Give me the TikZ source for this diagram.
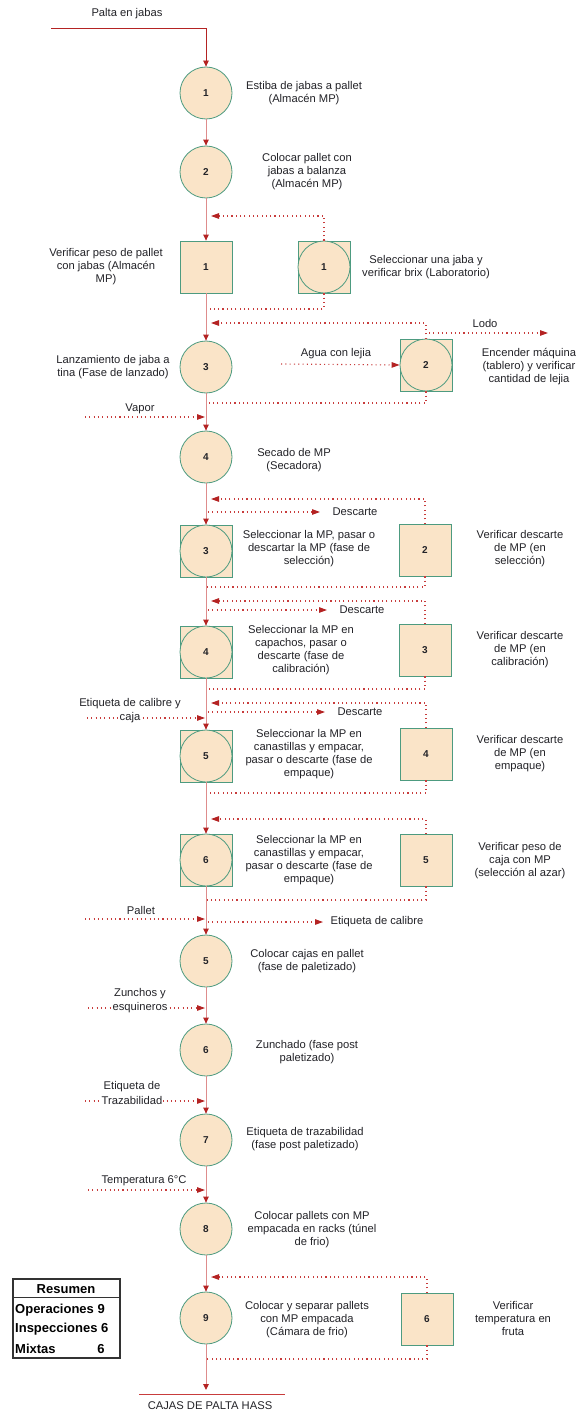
\documentclass[tikz,border=0pt]{standalone}
\usepackage{fontspec}
\setmainfont{Liberation Sans}
\usetikzlibrary{arrows.meta}
\definecolor{fillc}{RGB}{250,228,200}
\definecolor{bord}{RGB}{77,155,128}
\definecolor{spinec}{RGB}{222,140,140}
\definecolor{arr}{RGB}{180,35,35}
\definecolor{dotc}{RGB}{200,60,60}
\definecolor{txt}{RGB}{35,35,40}
\begin{document}
\begin{tikzpicture}[x=1pt,y=-1pt,
  opnode/.style={circle, draw=bord, fill=fillc, line width=0.8pt, minimum size=52pt, inner sep=0pt, font=\fontsize{10}{12}\selectfont\bfseries, text=txt},
  insnode/.style={rectangle, draw=bord, fill=fillc, line width=0.8pt, minimum size=52pt, inner sep=0pt, font=\fontsize{10}{12}\selectfont\bfseries, text=txt},
  flow/.style={draw=spinec, line width=0.9pt, -{Triangle[length=6pt,width=5.5pt,color=arr,fill=arr]}},
  toparrow/.style={draw=arr, line width=0.8pt, -{Triangle[length=6pt,width=5.5pt,color=arr,fill=arr]}},
  dots/.style={draw=dotc, line width=1.1pt, dash pattern=on 1.1pt off 3.2pt},
  dotarrow/.style={dots, -{Triangle[length=8pt,width=5.5pt,color=arr,fill=arr]}},
  lbl/.style={align=center, font=\fontsize{11.2}{13}\selectfont, text=txt, inner sep=1pt},
  wlbl/.style={lbl, fill=white},
  tbl/.style={font=\fontsize{13}{15}\selectfont\bfseries, text=black, inner sep=0pt}
]
\useasboundingbox[fill=white] (0,0) rectangle (576,1415);

% ---------- operations ----------
\node[opnode] (op1) at (206,93) {1};
\node[opnode] (op2) at (206,172) {2};
\node[opnode] (op3) at (206,367) {3};
\node[opnode] (op4) at (206,457) {4};
\node[opnode] (op5) at (206,961) {5};
\node[opnode] (op6) at (206,1050) {6};
\node[opnode] (op7) at (206,1140) {7};
\node[opnode] (op8) at (206,1229) {8};
\node[opnode] (op9) at (206,1318) {9};

% ---------- inspections ----------
\node[insnode] (in1) at (206,267) {1};
\node[insnode] (in2) at (425,550) {2};
\node[insnode] (in3) at (425,650) {3};
\node[insnode] (in4) at (426,754) {4};
\node[insnode] (in5) at (426,860) {5};
\node[insnode] (in6) at (427,1319) {6};

% ---------- mixed ----------
\node[insnode] (mx1) at (324,267) {};
\node[opnode] (mx1c) at (mx1.center) {1};
\node[insnode] (mx2) at (426,365) {};
\node[opnode] (mx2c) at (mx2.center) {2};
\node[insnode] (mx3) at (206,551) {};
\node[opnode] (mx3c) at (mx3.center) {3};
\node[insnode] (mx4) at (206,652) {};
\node[opnode] (mx4c) at (mx4.center) {4};
\node[insnode] (mx5) at (206,756) {};
\node[opnode] (mx5c) at (mx5.center) {5};
\node[insnode] (mx6) at (206,860) {};
\node[opnode] (mx6c) at (mx6.center) {6};

% ---------- main flow ----------
\coordinate (start) at (51,28);
\coordinate (corner) at (206,28);
\draw[toparrow] (start) -- (corner) -- (op1);
\draw[flow] (op1) -- (op2);
\draw[flow] (op2) -- (in1);
\draw[flow] (in1) -- (op3);
\draw[flow] (op3) -- (op4);
\draw[flow] (op4) -- (mx3);
\draw[flow] (mx3) -- (mx4);
\draw[flow] (mx4) -- (mx5);
\draw[flow] (mx5) -- (mx6);
\draw[flow] (mx6) -- (op5);
\draw[flow] (op5) -- (op6);
\draw[flow] (op6) -- (op7);
\draw[flow] (op7) -- (op8);
\draw[flow] (op8) -- (op9);
\coordinate (fin) at (206,1390);
\draw[flow] (op9) -- (fin);
\coordinate (endL) at (139,1394);
\coordinate (endR) at (285,1394);
\draw[draw=dotc, line width=0.6pt] (endL) -- (endR);

% ---------- dotted connectors ----------
% mixed 1
\coordinate (f1) at (211,216);
\coordinate (r1) at (207,309);
\draw[dotarrow] (mx1.north) |- (f1);
\draw[dots] (mx1.south) |- (r1);
% mixed 2
\coordinate (f2) at (211,323);
\coordinate (r2) at (207,403);
\draw[dotarrow] (mx2.north) |- (f2);
\draw[dots] (mx2.south) |- (r2);
\coordinate (lodoA) at (429,333);
\coordinate (lodoB) at (548,333);
\draw[dotarrow] (lodoA) -- (lodoB);
\coordinate (aguaA) at (281,364);
\draw[dotarrow] (aguaA) -- (mx2.west);
% vapor
\coordinate (vapA) at (85,417);
\coordinate (vapB) at (205,417);
\draw[dotarrow] (vapA) -- (vapB);
% inspection 2
\coordinate (f3) at (211,499);
\coordinate (r3) at (207,587);
\coordinate (d3a) at (208,512);
\coordinate (d3b) at (320,512);
\draw[dotarrow] (in2.north) |- (f3);
\draw[dots] (in2.south) |- (r3);
\draw[dotarrow] (d3a) -- (d3b);
% inspection 3
\coordinate (f4) at (211,601);
\coordinate (r4) at (207,689);
\coordinate (d4a) at (208,610);
\coordinate (d4b) at (327,610);
\draw[dotarrow] (in3.north) |- (f4);
\draw[dots] (in3.south) |- (r4);
\draw[dotarrow] (d4a) -- (d4b);
% inspection 4
\coordinate (f5) at (211,703);
\coordinate (r5) at (207,793);
\coordinate (d5a) at (208,712);
\coordinate (d5b) at (325,712);
\draw[dotarrow] (in4.north) |- (f5);
\draw[dots] (in4.south) |- (r5);
\draw[dotarrow] (d5a) -- (d5b);
\coordinate (etA) at (87,718);
\coordinate (etB) at (205,718);
\draw[dotarrow] (etA) -- (etB);
% inspection 5
\coordinate (f6) at (211,819);
\coordinate (r6) at (207,900);
\draw[dotarrow] (in5.north) |- (f6);
\draw[dots] (in5.south) |- (r6);
% pallet
\coordinate (paA) at (85,919);
\coordinate (paB) at (205,919);
\draw[dotarrow] (paA) -- (paB);
\coordinate (ecA) at (208,922);
\coordinate (ecB) at (323,922);
\draw[dotarrow] (ecA) -- (ecB);
% zunchos
\coordinate (zuA) at (88,1008);
\coordinate (zuB) at (205,1008);
\draw[dotarrow] (zuA) -- (zuB);
% trazabilidad
\coordinate (trA) at (85,1101);
\coordinate (trB) at (205,1101);
\draw[dotarrow] (trA) -- (trB);
% temperatura
\coordinate (teA) at (88,1190);
\coordinate (teB) at (205,1190);
\draw[dotarrow] (teA) -- (teB);
% inspection 6
\coordinate (f7) at (211,1277);
\coordinate (r7) at (207,1359);
\draw[dotarrow] (in6.north) |- (f7);
\draw[dots] (in6.south) |- (r7);

% ---------- labels ----------
\node[lbl] (tPalta) at (127,14) {Palta en jabas};
\node[lbl] (tOp1) at (304,93.5) {Estiba de jabas a pallet\\(Almacén MP)};
\node[lbl] (tOp2) at (307,172) {Colocar pallet con\\jabas a balanza\\(Almacén MP)};
\node[lbl] (tIn1) at (106,267) {Verificar peso de pallet\\con jabas (Almacén\\MP)};
\node[lbl] (tMx1) at (426,267.5) {Seleccionar una jaba y\\verificar brix (Laboratorio)};
\node[lbl] (tOp3) at (113,367.5) {Lanzamiento de jaba a\\tina (Fase de lanzado)};
\node[lbl] (tMx2) at (529,367) {Encender máquina\\(tablero) y verificar\\cantidad de lejia};
\node[lbl] (tAgua) at (336,354) {Agua con lejia};
\node[lbl] (tLodo) at (485,323) {Lodo};
\node[lbl] (tVapor) at (140,409) {Vapor};
\node[lbl] (tOp4) at (294,460) {Secado de MP\\(Secadora)};
\node[lbl] (tDes1) at (355,512) {Descarte};
\node[lbl] (tMx3) at (309,548.5) {Seleccionar la MP, pasar o\\descartar la MP (fase de\\selección)};
\node[lbl] (tIn2) at (520,549) {Verificar descarte\\de MP (en\\selección)};
\node[lbl] (tDes2) at (362,610) {Descarte};
\node[lbl] (tMx4) at (301,650) {Seleccionar la MP en\\capachos, pasar o\\descarte (fase de\\calibración)};
\node[lbl] (tIn3) at (520,650) {Verificar descarte\\de MP (en\\calibración)};
\node[lbl] (tDes3) at (360,712) {Descarte};
\node[lbl] (tEtiq) at (130,704) {Etiqueta de calibre y};
\node[wlbl, inner sep=0.5pt] (tEtiq2) at (130,718) {caja};
\node[lbl] (tMx5) at (309,754) {Seleccionar la MP en\\canastillas y empacar,\\pasar o descarte (fase de\\empaque)};
\node[lbl] (tIn4) at (520,754) {Verificar descarte\\de MP (en\\empaque)};
\node[lbl] (tMx6) at (309,860) {Seleccionar la MP en\\canastillas y empacar,\\pasar o descarte (fase de\\empaque)};
\node[lbl] (tIn5) at (520,861) {Verificar peso de\\caja con MP\\(selección al azar)};
\node[lbl] (tPallet) at (141,910) {Pallet};
\node[lbl] (tEcal) at (377,922) {Etiqueta de calibre};
\node[lbl] (tOp5) at (307,961) {Colocar cajas en pallet\\(fase de paletizado)};
\node[lbl] (tZun) at (140,994) {Zunchos y};
\node[wlbl, inner sep=0.5pt] (tZun2) at (140,1007.5) {esquineros};
\node[lbl] (tOp6) at (307,1052.5) {Zunchado (fase post\\paletizado)};
\node[lbl] (tTraz) at (132,1087) {Etiqueta de};
\node[wlbl, inner sep=0.5pt] (tTraz2) at (132,1100.5) {Trazabilidad};
\node[lbl] (tOp7) at (305,1139.5) {Etiqueta de trazabilidad\\(fase post paletizado)};
\node[lbl] (tTemp) at (144,1181) {Temperatura 6°C};
\node[lbl] (tOp8) at (312,1229.5) {Colocar pallets con MP\\empacada en racks (túnel\\de frio)};
\node[lbl] (tOp9) at (307,1319.5) {Colocar y separar pallets\\con MP empacada\\(Cámara de frio)};
\node[lbl] (tIn6) at (513,1318.5) {Verificar\\temperatura en\\fruta};
\node[lbl] (tFin) at (210,1406) {CAJAS DE PALTA HASS};

% ---------- summary table ----------
\coordinate (tbA) at (13,1279);
\coordinate (tbB) at (120,1358);
\coordinate (tbL) at (13,1297);
\coordinate (tbR) at (120,1297);
\draw[line width=1.3pt, draw=black!80] (tbA) rectangle (tbB);
\draw[line width=0.8pt, draw=black!80] (tbL) -- (tbR);
\node[tbl] (tRes) at (66,1289) {Resumen};
\node[tbl, anchor=west] (tOpe) at (15,1310) {Operaciones 9};
\node[tbl, anchor=west] (tIns) at (15,1329.5) {Inspecciones 6};
\node[tbl, anchor=west] (tMix) at (15,1349) {Mixtas};
\node[tbl] (tMixN) at (101,1349) {6};
\end{tikzpicture}
\end{document}
